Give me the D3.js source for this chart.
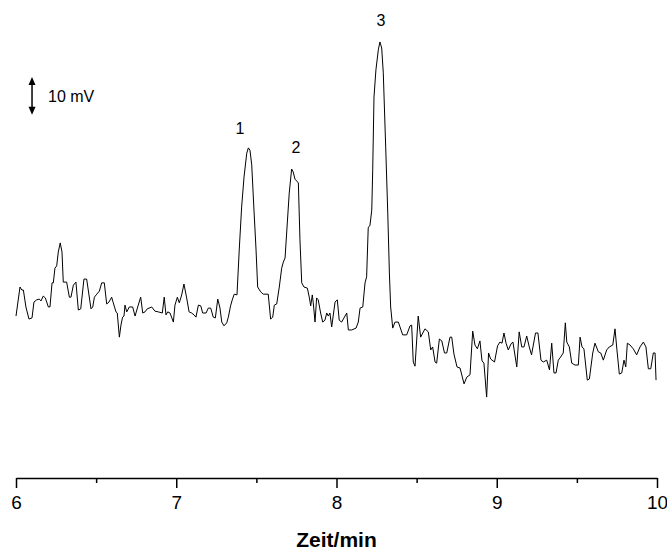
<!DOCTYPE html>
<html lang="de">
<head>
    <meta charset="UTF-8">
    <title>Chromatogramm</title>
    <script src="https://d3js.org/d3.v7.min.js"></script>
    <style>
        body {
            margin: 0;
            background: #fff;
            font-family: "Liberation Sans", Arial, sans-serif;
        }
        .axis text {
            font-size: 19px;
            font-family: "Liberation Sans", Arial, sans-serif;
            fill: #000;
        }
        .axis path, .axis line {
            stroke: #000;
            stroke-width: 1.5px;
        }
    </style>
</head>
<body>
    <div id="chart"></div>

    <script>
        // Retention time (min)
        var zeit = [
            6.000, 6.025, 6.036, 6.046, 6.062, 6.081, 6.100, 6.112, 6.129, 6.145,
            6.156, 6.170, 6.183, 6.202, 6.212, 6.225, 6.233, 6.243, 6.254, 6.264,
            6.276, 6.287, 6.295, 6.316, 6.333, 6.343, 6.358, 6.374, 6.389, 6.404,
            6.424, 6.441, 6.468, 6.479, 6.489, 6.504, 6.520, 6.535, 6.551, 6.566,
            6.580, 6.597, 6.607, 6.624, 6.632, 6.645, 6.655, 6.665, 6.674, 6.680,
            6.691, 6.707, 6.728, 6.743, 6.763, 6.778, 6.791, 6.805, 6.819, 6.847,
            6.867, 6.888, 6.913, 6.925, 6.936, 6.947, 6.961, 6.982, 6.992, 7.007,
            7.019, 7.034, 7.048, 7.065, 7.080, 7.096, 7.111, 7.123, 7.138, 7.153,
            7.165, 7.186, 7.200, 7.215, 7.231, 7.244, 7.259, 7.273, 7.284, 7.298,
            7.315, 7.325, 7.339, 7.351, 7.362, 7.379, 7.393, 7.408, 7.423, 7.440,
            7.450, 7.460, 7.471, 7.485, 7.498, 7.508, 7.527, 7.543, 7.574, 7.589,
            7.602, 7.612, 7.627, 7.643, 7.658, 7.668, 7.679, 7.693, 7.705, 7.720,
            7.730, 7.741, 7.752, 7.762, 7.772, 7.783, 7.797, 7.818, 7.830, 7.839,
            7.849, 7.855, 7.866, 7.876, 7.886, 7.901, 7.914, 7.928, 7.939, 7.949,
            7.959, 7.970, 7.991, 8.005, 8.017, 8.032, 8.064, 8.074, 8.095, 8.122,
            8.136, 8.147, 8.164, 8.178, 8.188, 8.198, 8.209, 8.220, 8.226, 8.234,
            8.246, 8.261, 8.271, 8.282, 8.292, 8.307, 8.320, 8.330, 8.338, 8.351,
            8.365, 8.386, 8.413, 8.438, 8.459, 8.469, 8.479, 8.490, 8.510, 8.525,
            8.552, 8.573, 8.588, 8.600, 8.615, 8.625, 8.642, 8.657, 8.674, 8.688,
            8.708, 8.719, 8.733, 8.752, 8.771, 8.796, 8.813, 8.833, 8.850, 8.864,
            8.879, 8.895, 8.908, 8.920, 8.937, 8.949, 8.962, 8.986, 9.005, 9.020,
            9.033, 9.045, 9.058, 9.072, 9.089, 9.101, 9.125, 9.140, 9.156, 9.170,
            9.187, 9.203, 9.217, 9.242, 9.257, 9.276, 9.290, 9.312, 9.329, 9.343,
            9.357, 9.370, 9.384, 9.395, 9.415, 9.428, 9.437, 9.453, 9.468, 9.488,
            9.509, 9.520, 9.532, 9.544, 9.565, 9.578, 9.599, 9.613, 9.634, 9.649,
            9.665, 9.686, 9.702, 9.724, 9.738, 9.750, 9.765, 9.780, 9.794, 9.805,
            9.815, 9.832, 9.852, 9.873, 9.894, 9.915, 9.931, 9.946, 9.961, 9.977,
            9.988, 9.994
        ];

        // Detector signal (mV, relative to baseline)
        var signal = [
            -1.6, 6.1, 5.3, 5.3, 0.8, -2.4, -2.1, 2.1, 2.7, 2.9,
            2.4, 3.7, 3.2, 0.8, 0.8, 7.2, 7.2, 11.1, 11.7, 15.4,
            17.8, 15.4, 7.4, 7.4, 3.4, 3.4, 6.6, 7.4, 0.0, 0.3,
            8.2, 8.2, 0.3, 0.8, 3.4, 4.2, 5.0, 7.2, 7.2, 1.6,
            2.1, 3.4, 1.9, -0.5, -0.8, -7.2, -4.0, -1.9, -1.6, 1.3,
            -0.5, 0.8, 0.8, -1.6, 1.3, 3.4, -0.8, -0.5, 0.3, 0.8,
            -0.3, -0.5, -0.8, 3.4, -1.3, -0.5, -0.8, -3.2, 1.3, 3.4,
            1.9, 4.0, 6.9, 3.2, -0.5, -0.8, -1.3, -1.9, 1.3, 1.1,
            -0.8, -0.8, 0.5, 0.5, -1.9, -2.1, 2.9, 0.5, -3.2, -4.2,
            -3.4, -1.9, 1.1, 2.9, 4.2, 4.0, 15.9, 27.3, 35.3, 41.6,
            43.0, 42.4, 38.5, 26.5, 15.9, 6.1, 4.8, 4.2, 4.2, -2.4,
            -1.9, 1.3, 1.6, 6.1, 11.1, 12.7, 13.8, 23.1, 31.0, 37.4,
            36.6, 34.7, 34.2, 33.7, 18.6, 7.2, 6.1, 5.8, 3.4, 1.1,
            4.0, 1.9, -3.2, 3.2, 2.7, -0.8, -3.2, -2.7, -0.8, -1.6,
            -0.8, -4.5, 2.1, 2.7, -2.7, -3.2, -0.8, -5.3, -5.3, -4.8,
            -3.2, 0.5, 0.8, 7.2, 8.8, 21.8, 22.5, 26.5, 37.1, 56.5,
            63.7, 69.0, 71.1, 69.5, 62.9, 43.2, 25.7, 9.8, 0.8, -4.8,
            -3.2, -3.2, -6.6, -6.6, -4.2, -4.0, -13.8, -14.9, -1.6, -7.2,
            -5.0, -5.8, -10.6, -9.8, -13.8, -14.1, -7.7, -8.2, -11.4, -11.4,
            -7.2, -7.2, -11.7, -15.1, -15.4, -19.6, -17.8, -17.2, -5.6, -9.3,
            -10.3, -8.2, -13.5, -14.1, -23.1, -11.4, -13.0, -13.8, -9.5, -8.5,
            -8.8, -6.1, -8.8, -10.6, -9.0, -8.5, -15.1, -5.8, -9.8, -9.8,
            -6.9, -9.8, -11.9, -6.1, -6.1, -13.3, -13.8, -13.3, -15.9, -8.8,
            -16.7, -16.7, -13.3, -12.7, -11.4, -3.4, -8.5, -9.8, -14.1, -14.6,
            -14.6, -7.2, -9.8, -10.3, -18.6, -18.3, -11.4, -8.8, -11.1, -11.4,
            -13.3, -10.6, -9.8, -9.3, -5.0, -10.6, -17.0, -16.7, -13.3, -15.1,
            -8.8, -9.3, -10.3, -11.9, -9.8, -8.5, -9.8, -15.6, -15.6, -11.4,
            -11.4, -18.6
        ];

        // Peak labels
        var peakNamen = ["1", "2", "3"];
        var peakZeit = [7.398, 7.747, 8.278];
        var peakHoehe = [46.7, 41.6, 75.3];

        // Tick labels
        var majorTicks = [6, 7, 8, 9, 10];
        var minorTicks = [6.5, 7.5, 8.5, 9.5];

        // Scale bar
        var skalaZeit = 6.1;
        var skalaVon = 51.8;
        var skalaBis = 61.8;
        var skalaText = "10 mV";

        var width = 667;
        var height = 550;
        var axisY = 478;

        var svg = d3.select("#chart")
            .append("svg")
            .attr("width", width)
            .attr("height", height);

        var x = d3.scaleLinear()
            .domain([6, 10])
            .range([16, 657]);

        var y = d3.scaleLinear()
            .domain([-45, 75])
            .range([479.65, 27.25]);

        var data = zeit.map(function(t, i) { return { t: t, v: signal[i] }; });

        // Trace
        var line = d3.line()
            .x(function(d) { return x(d.t); })
            .y(function(d) { return y(d.v); });

        svg.append("path")
            .datum(data)
            .attr("fill", "none")
            .attr("stroke", "#000")
            .attr("stroke-width", 1)
            .attr("stroke-linejoin", "round")
            .attr("d", line);

        // Axis with major ticks
        svg.append("g")
            .attr("class", "axis")
            .attr("transform", "translate(0," + axisY + ")")
            .call(d3.axisBottom(x)
                .tickValues(majorTicks)
                .tickFormat(d3.format("d"))
                .tickSize(10)
                .tickSizeOuter(0)
                .tickPadding(8));

        // Minor ticks
        var minor = svg.append("g")
            .attr("class", "axis")
            .attr("transform", "translate(0," + axisY + ")")
            .call(d3.axisBottom(x)
                .tickValues(minorTicks)
                .tickFormat("")
                .tickSize(5)
                .tickSizeOuter(0));
        minor.select(".domain").remove();

        // Axis title
        svg.append("text")
            .attr("x", (x.range()[0] + x.range()[1]) / 2)
            .attr("y", 547)
            .attr("text-anchor", "middle")
            .style("font-size", "21px")
            .style("font-weight", "bold")
            .text("Zeit/min");

        // Peak numbers
        svg.selectAll(".peak")
            .data(peakNamen)
            .enter().append("text")
            .attr("class", "peak")
            .attr("x", function(d, i) { return x(peakZeit[i]); })
            .attr("y", function(d, i) { return y(peakHoehe[i]); })
            .attr("text-anchor", "middle")
            .style("font-size", "16px")
            .text(function(d) { return d; });

        // 10 mV scale bar with arrow heads
        var sx = x(skalaZeit);
        var yOben = y(skalaBis);
        var yUnten = y(skalaVon);
        svg.append("line")
            .attr("x1", sx).attr("x2", sx)
            .attr("y1", yOben + 4).attr("y2", yUnten - 4)
            .attr("stroke", "#000")
            .attr("stroke-width", 1.5);
        svg.append("path")
            .attr("d", "M" + sx + "," + yOben + "l-3.5,8h7z")
            .attr("fill", "#000");
        svg.append("path")
            .attr("d", "M" + sx + "," + yUnten + "l-3.5,-8h7z")
            .attr("fill", "#000");
        svg.append("text")
            .attr("x", sx + 16)
            .attr("y", (yOben + yUnten) / 2 + 6)
            .style("font-size", "16px")
            .text(skalaText);
    </script>
</body>
</html>
